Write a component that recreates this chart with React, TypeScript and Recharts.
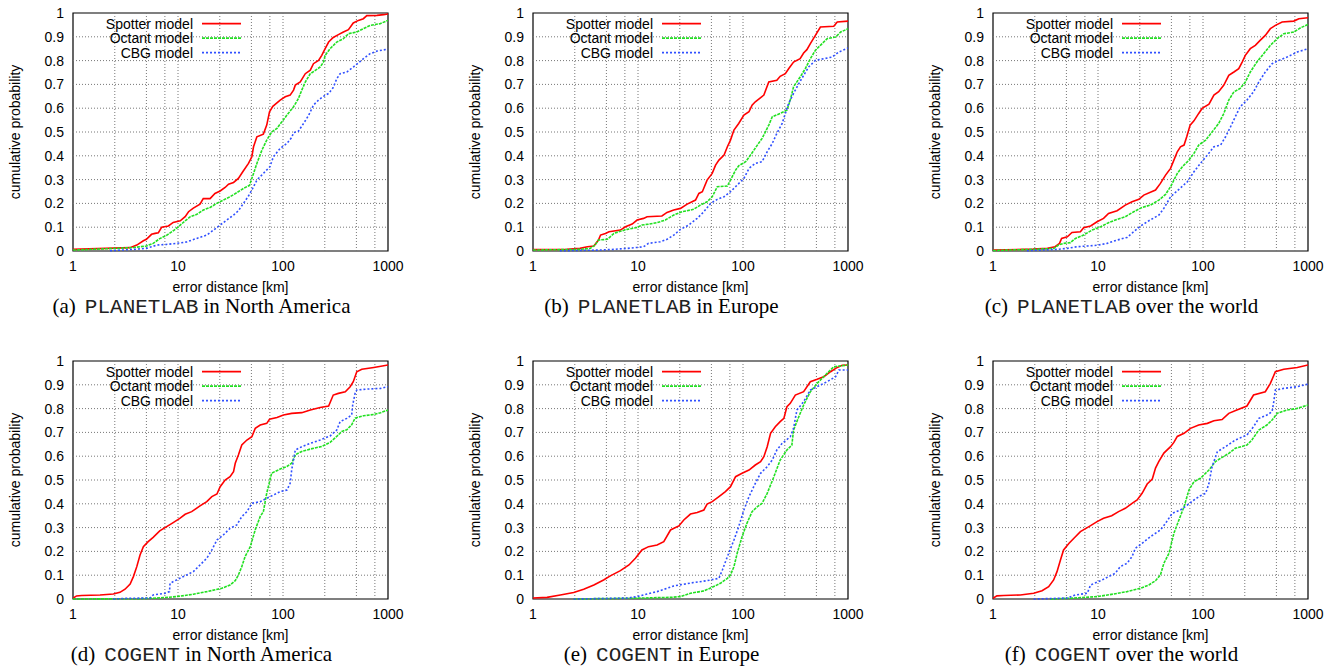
import { LineChart, Line, XAxis, YAxis, ReferenceLine, ReferenceArea } from "recharts";

type Pt = [number, number];

// axes / grid
const X_TICKS = [1, 10, 100, 1000];
const Y_TICKS = [0, 0.1, 0.2, 0.3, 0.4, 0.5, 0.6, 0.7, 0.8, 0.9, 1];
const X_GRID = [2.5, 5, 7.5, 10, 25, 50, 75, 100, 250, 500, 750];
const Y_GRID = [0.1, 0.2, 0.3, 0.4, 0.5, 0.6, 0.7, 0.8, 0.9];

const SERIES_NAMES = ["Spotter model", "Octant model", "CBG model"];
const SERIES_COLORS = ["#ff0000", "#22e022", "#3050ff"];
const SERIES_DASH = ["", "3 1", "2 2"];

// (a) PLANETLAB in North America
const planetNaSpotter: Pt[] = [
  [1, 0.007], [3.5, 0.014], [4.05, 0.025], [4.68, 0.043], [5, 0.049], [5.6, 0.07], [6.05, 0.074],
  [6.5, 0.077], [7, 0.1], [8.1, 0.105], [9, 0.12], [10.5, 0.127], [11.7, 0.144], [12.6, 0.165],
  [14, 0.18], [16.2, 0.197], [17.4, 0.22], [20.2, 0.22], [22.5, 0.242], [25.2, 0.252], [28.1, 0.267],
  [30.3, 0.281], [33.8, 0.288], [37.6, 0.305], [41.4, 0.333], [46.9, 0.368], [50.5, 0.396],
  [52.4, 0.438], [56.4, 0.48], [65, 0.491], [70, 0.529], [74.4, 0.585], [80, 0.608], [94, 0.634],
  [105, 0.648], [117, 0.655], [126, 0.676], [131, 0.697], [146, 0.71], [163, 0.745], [182, 0.76],
  [195, 0.787], [218, 0.801], [234, 0.822], [247, 0.843], [272, 0.878], [301, 0.897], [337, 0.909],
  [376, 0.92], [420, 0.93], [467, 0.958], [523, 0.969], [583, 0.976], [628, 0.989], [785, 0.99],
  [907, 0.993], [1000, 0.996],
];
const planetNaOctant: Pt[] = [
  [1, 0.004], [2.6, 0.011], [3.8, 0.015], [5, 0.021], [5.8, 0.032], [6.7, 0.052], [7.8, 0.066],
  [9, 0.085], [10.1, 0.102], [11.7, 0.127], [13.1, 0.144], [15.1, 0.154], [17.4, 0.172],
  [20.2, 0.183], [23.4, 0.2], [27, 0.214], [31.3, 0.228], [36.3, 0.245], [42, 0.263], [48, 0.276],
  [52.4, 0.326], [56.4, 0.368], [63, 0.424], [70, 0.466], [78, 0.5], [87.6, 0.515], [97.6, 0.543],
  [109, 0.571], [126, 0.606], [140, 0.64], [151, 0.676], [163, 0.71], [182, 0.745], [203, 0.759],
  [226, 0.773], [243, 0.794], [252, 0.822], [281, 0.85], [325, 0.878], [376, 0.892], [420, 0.913],
  [504, 0.92], [583, 0.934], [675, 0.948], [840, 0.955], [1000, 0.969],
];
const planetNaCbg: Pt[] = [
  [2.25, 0.001], [3.8, 0.007], [5, 0.011], [6.3, 0.025], [7.8, 0.028], [9.7, 0.032], [12.1, 0.038],
  [15.1, 0.053], [18.8, 0.067], [21.8, 0.088], [25.2, 0.109], [29.1, 0.13], [33.8, 0.151],
  [37.6, 0.169], [42, 0.2], [46.9, 0.231], [50.5, 0.256], [56.4, 0.298], [65, 0.326], [75, 0.354],
  [81, 0.396], [94, 0.431], [109, 0.452], [121, 0.477], [126, 0.497], [140, 0.503], [157, 0.536],
  [176, 0.571], [195, 0.613], [218, 0.634], [243, 0.65], [272, 0.662], [301, 0.687], [325, 0.724],
  [350, 0.745], [405, 0.752], [467, 0.773], [523, 0.79], [583, 0.808], [675, 0.829], [785, 0.84],
  [1000, 0.848],
];

// (b) PLANETLAB in Europe
const planetEuSpotter: Pt[] = [
  [1, 0.006], [2.1, 0.007], [2.8, 0.011], [3.3, 0.018], [3.8, 0.021], [4.2, 0.046], [4.4, 0.067],
  [4.9, 0.074], [5.3, 0.081], [6.8, 0.088], [7.6, 0.102], [8.8, 0.113], [9.8, 0.13], [11.3, 0.137],
  [12.2, 0.144], [16.9, 0.147], [18.9, 0.162], [21.9, 0.172], [25.4, 0.179], [29.4, 0.197],
  [35.3, 0.214], [38, 0.242], [41, 0.249], [45.5, 0.298], [50.9, 0.326], [54.8, 0.361], [59, 0.382],
  [66, 0.403], [71, 0.438], [76, 0.466], [82, 0.508], [91, 0.536], [102, 0.571], [114, 0.585],
  [122, 0.613], [131, 0.627], [158, 0.655], [176, 0.71], [210, 0.717], [226, 0.734], [253, 0.745],
  [272, 0.766], [303, 0.794], [350, 0.808], [378, 0.832], [406, 0.846], [438, 0.871], [489, 0.906],
  [546, 0.941], [732, 0.944], [790, 0.962], [1000, 0.966],
];
const planetEuOctant: Pt[] = [
  [1, 0.004], [2.8, 0.007], [3.5, 0.011], [3.9, 0.025], [4.2, 0.046], [5.1, 0.049], [5.9, 0.074],
  [6.8, 0.083], [7.9, 0.091], [9.8, 0.099], [10.9, 0.109], [12.6, 0.113], [15.2, 0.119],
  [18.2, 0.13], [21.9, 0.151], [26.3, 0.165], [33.8, 0.175], [39.3, 0.193], [45.5, 0.207],
  [50.9, 0.228], [56.9, 0.27], [71, 0.273], [76, 0.298], [85, 0.34], [91, 0.358], [106, 0.375],
  [118, 0.403], [137, 0.445], [152, 0.473], [176, 0.529], [190, 0.564], [226, 0.578], [262, 0.592],
  [282, 0.634], [303, 0.69], [350, 0.731], [392, 0.766], [438, 0.808], [489, 0.843], [546, 0.864],
  [632, 0.892], [762, 0.899], [852, 0.92], [1000, 0.934],
];
const planetEuCbg: Pt[] = [
  [1.8, 0.001], [4.4, 0.004], [5.9, 0.007], [7.9, 0.011], [9.8, 0.015], [11.3, 0.018], [12.6, 0.032],
  [16.3, 0.039], [18.9, 0.049], [21.9, 0.067], [25.4, 0.091], [30.5, 0.109], [36.6, 0.137],
  [42.4, 0.165], [49.1, 0.2], [56.9, 0.217], [66, 0.228], [76, 0.249], [88, 0.277], [102, 0.305],
  [114, 0.347], [131, 0.368], [152, 0.375], [170, 0.417], [190, 0.452], [210, 0.494], [236, 0.536],
  [253, 0.578], [272, 0.62], [303, 0.662], [340, 0.703], [378, 0.738], [422, 0.773], [489, 0.801],
  [588, 0.808], [705, 0.815], [818, 0.836], [1000, 0.853],
];

// (c) PLANETLAB over the world
const planetWorldSpotter: Pt[] = [
  [1, 0.004], [2.4, 0.008], [3.3, 0.011], [3.9, 0.018], [4.3, 0.032], [4.5, 0.053], [5.1, 0.06],
  [5.65, 0.078], [6.8, 0.081], [7.3, 0.098], [8.5, 0.105], [9.8, 0.123], [11.3, 0.137],
  [12.6, 0.158], [15.2, 0.169], [18.2, 0.193], [21.1, 0.207], [24.5, 0.217], [27.3, 0.235],
  [35.3, 0.256], [39.3, 0.284], [44, 0.319], [49.1, 0.347], [52.8, 0.382], [56.9, 0.417],
  [61, 0.438], [66, 0.445], [70, 0.48], [75.4, 0.529], [82, 0.547], [91, 0.578], [98, 0.599],
  [114, 0.617], [127, 0.655], [141, 0.669], [158, 0.697], [176, 0.738], [197, 0.752], [219, 0.766],
  [236, 0.794], [253, 0.822], [282, 0.85], [315, 0.864], [350, 0.885], [392, 0.906], [438, 0.934],
  [489, 0.948], [567, 0.962], [732, 0.966], [818, 0.976], [1000, 0.98],
];
const planetWorldOctant: Pt[] = [
  [1, 0.002], [2.8, 0.008], [3.8, 0.011], [4.2, 0.025], [4.7, 0.032], [5.45, 0.035], [6.1, 0.053],
  [7.3, 0.067], [8.8, 0.088], [10.6, 0.102], [12.6, 0.119], [15.2, 0.133], [18.2, 0.144],
  [21.9, 0.165], [26.3, 0.183], [31.6, 0.193], [38, 0.214], [44, 0.238], [49.1, 0.27], [56.9, 0.326],
  [63.6, 0.354], [73.5, 0.382], [82, 0.41], [91, 0.445], [106, 0.466], [122, 0.5], [141, 0.536],
  [158, 0.578], [176, 0.634], [197, 0.669], [226, 0.683], [253, 0.71], [282, 0.752], [326, 0.794],
  [378, 0.829], [438, 0.864], [508, 0.892], [588, 0.913], [732, 0.92], [852, 0.938], [1000, 0.952],
];
const planetWorldCbg: Pt[] = [
  [2.1, 0.001], [4.1, 0.007], [5.1, 0.011], [6.3, 0.018], [7.9, 0.021], [9.8, 0.024], [12.2, 0.032],
  [15.2, 0.046], [18.9, 0.057], [21.9, 0.081], [25.4, 0.105], [30.5, 0.127], [38, 0.151],
  [42.4, 0.179], [49.1, 0.228], [59, 0.259], [71, 0.291], [82, 0.333], [94.5, 0.368], [110, 0.403],
  [127, 0.438], [147, 0.445], [164, 0.48], [183, 0.522], [203, 0.564], [226, 0.606], [262, 0.634],
  [303, 0.669], [340, 0.71], [392, 0.752], [455, 0.787], [527, 0.801], [632, 0.815], [790, 0.836],
  [1000, 0.85],
];

// (d) COGENT in North America
const cogentNaSpotter: Pt[] = [
  [1, 0.003], [1.08, 0.013], [1.21, 0.015], [1.81, 0.017], [2.42, 0.021], [2.8, 0.028], [3.13, 0.041],
  [3.5, 0.063], [3.76, 0.094], [4.05, 0.136], [4.35, 0.185], [4.68, 0.22], [5.2, 0.241], [5.8, 0.259],
  [6.7, 0.286], [7.8, 0.304], [9, 0.321], [10.4, 0.339], [11.7, 0.356], [13.5, 0.367], [16.2, 0.391],
  [18.8, 0.409], [21, 0.43], [23.5, 0.441], [25.2, 0.472], [28.1, 0.5], [31.3, 0.514], [33.8, 0.535],
  [35.1, 0.57], [37.6, 0.605], [40.5, 0.647], [45.3, 0.668], [50.5, 0.682], [54.4, 0.717],
  [60.7, 0.731], [70, 0.738], [74.4, 0.755], [87.6, 0.763], [101, 0.773], [121, 0.78], [151, 0.783],
  [182, 0.794], [226, 0.805], [272, 0.811], [301, 0.857], [337, 0.864], [392, 0.871], [436, 0.892],
  [467, 0.913], [504, 0.955], [563, 0.965], [733, 0.973], [1000, 0.983],
];
const cogentNaOctant: Pt[] = [
  [1, 0], [4, 0.001], [6.3, 0.004], [9.7, 0.01], [14, 0.02], [18.8, 0.031], [26.1, 0.045],
  [31.3, 0.059], [35.1, 0.077], [37.6, 0.101], [40.5, 0.136], [43.6, 0.179], [48.8, 0.22],
  [54.4, 0.291], [60.7, 0.347], [65, 0.367], [70, 0.445], [78, 0.529], [94, 0.546], [109, 0.557],
  [121, 0.571], [131, 0.606], [151, 0.62], [182, 0.63], [234, 0.641], [281, 0.658], [325, 0.683],
  [363, 0.704], [405, 0.711], [451, 0.732], [486, 0.76], [583, 0.77], [733, 0.775], [850, 0.783],
  [1000, 0.794],
];
const cogentNaCbg: Pt[] = [
  [2.42, 0], [3.25, 0.003], [5.4, 0.004], [5.8, 0.017], [7.5, 0.024], [8.3, 0.031], [8.4, 0.066],
  [9.4, 0.077], [10.4, 0.087], [12.1, 0.101], [14, 0.115], [16.2, 0.143], [18.8, 0.171], [21, 0.206],
  [23.5, 0.248], [27, 0.269], [31.3, 0.297], [36.3, 0.311], [40.5, 0.346], [45.3, 0.367],
  [50.5, 0.402], [60.7, 0.409], [70, 0.423], [81, 0.437], [94, 0.451], [109, 0.458], [117, 0.486],
  [121, 0.542], [131, 0.626], [151, 0.64], [182, 0.654], [226, 0.668], [281, 0.685], [325, 0.71],
  [350, 0.745], [405, 0.759], [451, 0.773], [461, 0.815], [486, 0.864], [504, 0.878], [628, 0.882],
  [850, 0.885], [1000, 0.892],
];

// (e) COGENT in Europe
const cogentEuSpotter: Pt[] = [
  [1, 0.004], [1.36, 0.007], [1.82, 0.017], [2.44, 0.027], [3.04, 0.041], [3.8, 0.059], [4.7, 0.08],
  [5.45, 0.097], [6.8, 0.119], [8.2, 0.143], [9.45, 0.171], [10.9, 0.206], [12.6, 0.22], [15.2, 0.227],
  [17.6, 0.241], [20.4, 0.29], [24.5, 0.307], [27.3, 0.332], [31.6, 0.357], [36.6, 0.363],
  [42.4, 0.374], [45.5, 0.399], [50.9, 0.409], [59, 0.43], [68, 0.451], [76, 0.472], [85, 0.514],
  [98, 0.528], [114, 0.542], [131, 0.563], [147, 0.577], [158, 0.598], [170, 0.64], [183, 0.696],
  [203, 0.724], [226, 0.745], [245, 0.759], [262, 0.808], [282, 0.822], [315, 0.857], [378, 0.871],
  [438, 0.913], [508, 0.923], [588, 0.934], [682, 0.955], [790, 0.973], [881, 0.982], [1000, 0.983],
];
const cogentEuOctant: Pt[] = [
  [2.44, 0], [10.6, 0.004], [20.4, 0.007], [25.4, 0.01], [31.6, 0.024], [42.4, 0.034], [50.9, 0.049],
  [61, 0.066], [71, 0.087], [76, 0.101], [82, 0.136], [88, 0.192], [98, 0.262], [109, 0.318],
  [122, 0.367], [137, 0.388], [152, 0.402], [170, 0.444], [197, 0.514], [226, 0.584], [262, 0.626],
  [292, 0.647], [303, 0.71], [340, 0.766], [378, 0.815], [438, 0.871], [508, 0.906], [632, 0.948],
  [732, 0.976], [1000, 0.983],
];
const cogentEuCbg: Pt[] = [
  [2.44, 0], [7.9, 0.004], [9.8, 0.01], [12.2, 0.021], [15.2, 0.031], [18.9, 0.045], [21.9, 0.055],
  [27.3, 0.062], [33.8, 0.069], [45.5, 0.077], [59, 0.087], [63.6, 0.122], [71, 0.178], [82, 0.248],
  [91, 0.304], [102, 0.374], [114, 0.43], [131, 0.486], [147, 0.528], [170, 0.556], [190, 0.584],
  [210, 0.626], [236, 0.654], [282, 0.682], [303, 0.717], [326, 0.794], [378, 0.829], [438, 0.878],
  [546, 0.899], [632, 0.913], [762, 0.934], [818, 0.962], [1000, 0.962],
];

// (f) COGENT over the world
const cogentWorldSpotter: Pt[] = [
  [1, 0.003], [1.09, 0.013], [1.26, 0.015], [1.82, 0.017], [2.44, 0.024], [2.93, 0.035], [3.39, 0.052],
  [3.78, 0.08], [4.07, 0.115], [4.39, 0.164], [4.7, 0.206], [5.3, 0.234], [5.9, 0.255], [6.8, 0.283],
  [8.2, 0.304], [9.8, 0.325], [11.3, 0.339], [13.5, 0.35], [15.7, 0.367], [18.2, 0.381], [21.1, 0.402],
  [23.6, 0.416], [26.3, 0.444], [29.4, 0.483], [32.9, 0.504], [35.3, 0.55], [38, 0.578], [42.4, 0.613],
  [49.1, 0.64], [52.8, 0.658], [56.9, 0.683], [66, 0.696], [76, 0.717], [91, 0.731], [110, 0.738],
  [127, 0.749], [152, 0.754], [176, 0.78], [210, 0.794], [262, 0.811], [303, 0.857], [392, 0.871],
  [438, 0.906], [489, 0.955], [588, 0.965], [790, 0.973], [1000, 0.983],
];
const cogentWorldOctant: Pt[] = [
  [3.5, 0], [5.9, 0.004], [9.8, 0.01], [14.1, 0.021], [18.9, 0.031], [25.4, 0.045], [30.5, 0.059],
  [35.3, 0.077], [39.3, 0.101], [42.4, 0.15], [47.4, 0.192], [52.8, 0.276], [59, 0.332], [66, 0.388],
  [73.5, 0.458], [82, 0.493], [94.5, 0.507], [114, 0.542], [131, 0.577], [147, 0.591], [176, 0.612],
  [203, 0.633], [262, 0.647], [292, 0.668], [340, 0.71], [406, 0.731], [455, 0.752], [508, 0.78],
  [632, 0.794], [790, 0.801], [1000, 0.815],
];
const cogentWorldCbg: Pt[] = [
  [2.44, 0], [5.1, 0.004], [6.1, 0.017], [7.9, 0.024], [8.5, 0.059], [10.6, 0.077], [12.6, 0.094],
  [14.6, 0.108], [16.3, 0.136], [18.9, 0.15], [21.1, 0.178], [22.7, 0.213], [26.3, 0.234],
  [31.6, 0.262], [39.3, 0.29], [44, 0.318], [50.9, 0.36], [61, 0.374], [71, 0.395], [82, 0.416],
  [94.5, 0.434], [106, 0.444], [114, 0.486], [122, 0.556], [137, 0.619], [164, 0.64], [203, 0.668],
  [262, 0.689], [303, 0.724], [340, 0.759], [406, 0.773], [455, 0.787], [472, 0.829], [489, 0.878],
  [588, 0.885], [790, 0.892], [1000, 0.903],
];

const SANS = '"Liberation Sans", Arial, Helvetica, sans-serif';
const SERIF = '"Liberation Serif", "Times New Roman", serif';
const MONO = '"Liberation Mono", "Courier New", monospace';

const PLOT_W = 315;
const PLOT_H = 238;
const Y_AXIS_W = 70;
const X_AXIS_H = 50;
const M = { top: 12, right: 22, left: 0, bottom: 0 };

const toRows = (pts: Pt[]) => pts.map(([x, y]) => ({ x, y }));

interface PanelProps {
  plotLeft: number;
  plotTop: number;
  series: Pt[][];
  tag: string;
  testbed: string;
  where: string;
}

function Panel({ plotLeft, plotTop, series, tag, testbed, where }: PanelProps) {
  const w = Y_AXIS_W + PLOT_W + M.right;
  const h = M.top + PLOT_H + X_AXIS_H;
  const captionCenter = Y_AXIS_W + PLOT_W / 2 - 29;
  return (
    <div style={{ position: "absolute", left: plotLeft - Y_AXIS_W, top: plotTop - M.top, width: w, height: h + 30 }}>
      <LineChart width={w} height={h} margin={M}>
        <XAxis
          dataKey="x"
          type="number"
          scale="log"
          domain={[1, 1000]}
          ticks={X_TICKS}
          interval={0}
          allowDataOverflow
          axisLine={false}
          tickLine={false}
          tickMargin={4}
          height={X_AXIS_H}
          tick={{ fontSize: 14, fill: "#000", fontFamily: SANS }}
          label={{ value: "error distance [km]", position: "insideBottom", offset: 9, fontSize: 14, fill: "#000", fontFamily: SANS }}
        />
        <YAxis
          type="number"
          domain={[0, 1]}
          ticks={Y_TICKS}
          interval={0}
          axisLine={false}
          tickLine={false}
          tickMargin={3}
          width={Y_AXIS_W}
          tick={{ fontSize: 14, fill: "#000", fontFamily: SANS }}
          label={{
            value: "cumulative probability",
            angle: -90,
            position: "insideLeft",
            offset: 12,
            fontSize: 14,
            fill: "#000",
            fontFamily: SANS,
            style: { textAnchor: "middle" },
          }}
        />
        {Y_GRID.map((v) => (
          <ReferenceLine key={"y" + v} y={v} stroke="#777" strokeWidth={1} strokeDasharray="1 2" />
        ))}
        {X_GRID.map((v) => (
          <ReferenceLine key={"x" + v} x={v} stroke="#777" strokeWidth={1} strokeDasharray="1 2" />
        ))}
        {series.map((pts, i) => (
          <Line
            key={SERIES_NAMES[i]}
            data={toRows(pts)}
            dataKey="y"
            name={SERIES_NAMES[i]}
            type="linear"
            stroke={SERIES_COLORS[i]}
            strokeWidth={1.6}
            strokeDasharray={SERIES_DASH[i] || undefined}
            dot={false}
            activeDot={false}
            isAnimationActive={false}
          />
        ))}
        <ReferenceArea x1={1} x2={1000} y1={0} y2={1} fill="none" stroke="#000" strokeWidth={1.2} ifOverflow="visible" />
      </LineChart>

      {/* key, top left inside the plot */}
      <svg style={{ position: "absolute", left: 0, top: 0 }} width={w} height={80}>
        {SERIES_NAMES.map((name, i) => {
          const cy = M.top + 10.6 + i * 14.5;
          return (
            <g key={name}>
              <text x={Y_AXIS_W + 120} y={cy + 5} textAnchor="end" fontSize={14} fontFamily={SANS} fill="#000">
                {name}
              </text>
              <line
                x1={Y_AXIS_W + 129}
                x2={Y_AXIS_W + 168}
                y1={cy}
                y2={cy}
                stroke={SERIES_COLORS[i]}
                strokeWidth={1.6}
                strokeDasharray={SERIES_DASH[i] || undefined}
              />
            </g>
          );
        })}
      </svg>

      <div
        style={{
          position: "absolute",
          left: 0,
          width: captionCenter * 2,
          top: M.top + 281,
          height: 24,
          lineHeight: "24px",
          textAlign: "center",
          whiteSpace: "nowrap",
          fontFamily: SERIF,
          fontSize: 21,
          color: "#000",
        }}
      >
        ({tag})<span style={{ fontFamily: MONO, marginLeft: 9, fontWeight: 300, color: "#222" }}>{testbed}</span> {where}
      </div>
    </div>
  );
}

export default function App() {
  return (
    <div style={{ position: "absolute", left: 0, top: 0, width: 1340, height: 666, background: "#fff", overflow: "hidden" }}>
      <Panel plotLeft={73} plotTop={13} series={[planetNaSpotter, planetNaOctant, planetNaCbg]} tag="a" testbed="PLANETLAB" where="in North America" />
      <Panel plotLeft={533} plotTop={13} series={[planetEuSpotter, planetEuOctant, planetEuCbg]} tag="b" testbed="PLANETLAB" where="in Europe" />
      <Panel plotLeft={993} plotTop={13} series={[planetWorldSpotter, planetWorldOctant, planetWorldCbg]} tag="c" testbed="PLANETLAB" where="over the world" />
      <Panel plotLeft={73} plotTop={361} series={[cogentNaSpotter, cogentNaOctant, cogentNaCbg]} tag="d" testbed="COGENT" where="in North America" />
      <Panel plotLeft={533} plotTop={361} series={[cogentEuSpotter, cogentEuOctant, cogentEuCbg]} tag="e" testbed="COGENT" where="in Europe" />
      <Panel plotLeft={993} plotTop={361} series={[cogentWorldSpotter, cogentWorldOctant, cogentWorldCbg]} tag="f" testbed="COGENT" where="over the world" />
    </div>
  );
}
